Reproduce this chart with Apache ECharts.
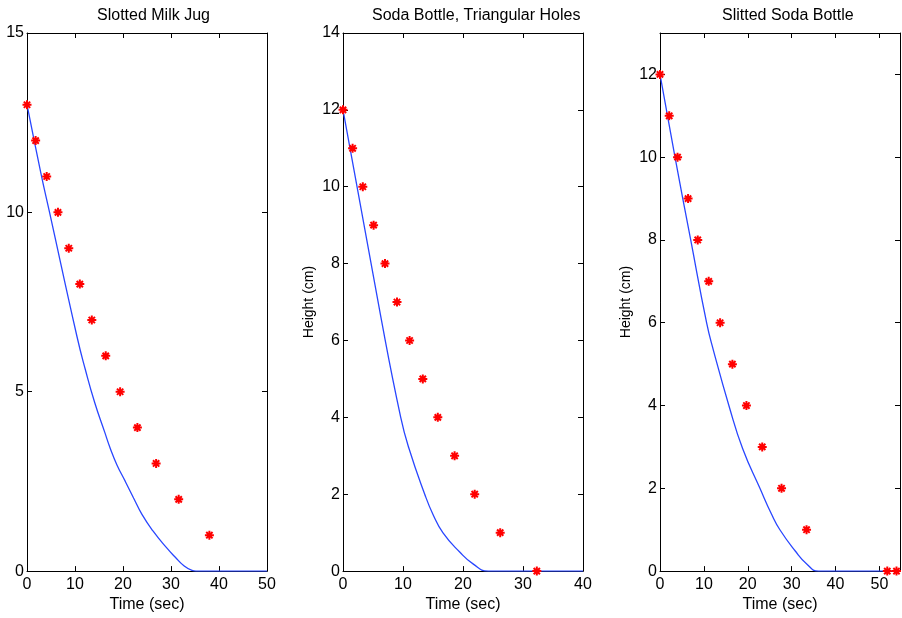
<!DOCTYPE html>
<html>
<head>
<meta charset="utf-8">
<script src="https://cdn.jsdelivr.net/npm/echarts@6/dist/echarts.min.js"></script>
<style>
html,body{margin:0;padding:0;background:#fff;}
#chart{width:902px;height:618px;}
</style>
</head>
<body>
<div id="chart"></div>
<script>
// ---- Data ----
const titles = ['Slotted Milk Jug', 'Soda Bottle, Triangular Holes', 'Slitted Soda Bottle'];

// Measured points (red asterisks)
const milkTime   = [0, 1.8, 4.1, 6.45, 8.7, 11.0, 13.5, 16.4, 19.4, 23.0, 26.9, 31.6, 38.0];
const milkHeight = [13, 12, 11, 10, 9, 8, 7, 6, 5, 4, 3, 2, 1];

const triTime   = [0, 1.6, 3.3, 5.1, 7.0, 9.0, 11.1, 13.3, 15.8, 18.6, 21.95, 26.2, 32.3];
const triHeight = [12, 11, 10, 9, 8, 7, 6, 5, 4, 3, 2, 1, 0];

const slitTime   = [0, 2.1, 4.0, 6.4, 8.6, 11.1, 13.7, 16.5, 19.7, 23.3, 27.7, 33.4, 51.8, 53.9];
const slitHeight = [12, 11, 10, 9, 8, 7, 6, 5, 4, 3, 2, 1, 0, 0];

// Model curves (blue lines)
const milkFitTime   = [0, 2.9, 4.7, 10.41, 12.15, 14.1, 16.17, 17.35, 18.74, 20.48, 22.2, 23.95, 26.24, 29.02, 30.9, 32.63, 34.37, 35.2, 50];
const milkFitHeight = [13, 11.09, 10, 6.54, 5.62, 4.7, 3.88, 3.42, 2.96, 2.5, 2.04, 1.58, 1.12, 0.66, 0.385, 0.155, 0.017, 0, 0];

const triFitTime   = [0, 6.3, 9.62, 11.0, 13.62, 15.0, 16.67, 19.45, 21.67, 24.2, 40];
const triFitHeight = [12, 6.62, 4.0, 3.19, 2.0, 1.475, 0.994, 0.497, 0.188, 0, 0];

const slitFitTime   = [0, 3.42, 7.0, 10.64, 12.16, 15.73, 18.85, 22.8, 25.46, 27.36, 30.78, 33.44, 36.1, 54.7];
const slitFitHeight = [12, 10, 8, 5.99, 5.34, 3.99, 2.956, 1.994, 1.366, 0.993, 0.492, 0.174, 0, 0];

// Axis ranges / ticks
const xMax = [50, 40, 54.7];
const xInterval = [10, 10, 10];
const yMax = [15, 14, 13];
const yInterval = [5, 2, 2];
const yNames = ['', 'Height (cm)', 'Height (cm)'];
const xName = 'Time (sec)';

// ---- Layout ----
const gridLeft = [27, 343, 660];
const gridTop = 33, gridW = 240, gridH = 544;
const titleLeft = [97, 372, 722];
const FONT = '"Liberation Sans", Arial, Helvetica, sans-serif';

function zip(a, b) { return a.map((v, i) => [v, b[i]]); }
const measured = [zip(milkTime, milkHeight), zip(triTime, triHeight), zip(slitTime, slitHeight)];
const fits = [zip(milkFitTime, milkFitHeight), zip(triFitTime, triFitHeight), zip(slitFitTime, slitFitHeight)];

const star = 'path://M5,0L5,10M0,5L10,5M1.5,1.5L8.5,8.5M1.5,8.5L8.5,1.5';

const grid = [], xAxis = [], yAxis = [], series = [], title = [];
for (let i = 0; i < 3; i++) {
  grid.push({ left: gridLeft[i], top: gridTop, width: gridW, height: gridH, containLabel: false });
  title.push({
    text: titles[i], left: titleLeft[i], top: 8, padding: 0,
    textStyle: { fontFamily: FONT, fontSize: 16, fontWeight: 'normal', color: '#000' }
  });
  const lineStyle = { color: '#000', width: 1 };
  xAxis.push({
    gridIndex: i, type: 'value', min: 0, max: xMax[i], interval: xInterval[i], position: 'bottom',
    name: xName, nameLocation: 'middle', nameGap: 21,
    nameTextStyle: { fontFamily: FONT, fontSize: 16, color: '#000' },
    axisLine: { show: true, onZero: false, lineStyle: lineStyle },
    axisTick: { show: true, inside: true, length: 5, lineStyle: lineStyle },
    axisLabel: { fontFamily: FONT, fontSize: 16, color: '#000', margin: 5, showMaxLabel: xMax[i] % xInterval[i] === 0 },
    splitLine: { show: false }
  });
  xAxis.push({
    gridIndex: i, type: 'value', min: 0, max: xMax[i], interval: xInterval[i], position: 'top',
    axisLine: { show: true, onZero: false, lineStyle: lineStyle },
    axisTick: { show: true, inside: true, length: 5, lineStyle: lineStyle },
    axisLabel: { show: false }, splitLine: { show: false }
  });
  yAxis.push({
    gridIndex: i, type: 'value', min: 0, max: yMax[i], interval: yInterval[i], position: 'left',
    name: yNames[i], nameLocation: 'middle', nameGap: 27, nameRotate: 90,
    nameTextStyle: { fontFamily: FONT, fontSize: 14, color: '#000' },
    axisLine: { show: true, onZero: false, lineStyle: lineStyle },
    axisTick: { show: true, inside: true, length: 5, lineStyle: lineStyle },
    axisLabel: { fontFamily: FONT, fontSize: 16, color: '#000', margin: 3, showMaxLabel: yMax[i] % yInterval[i] === 0 },
    splitLine: { show: false }
  });
  yAxis.push({
    gridIndex: i, type: 'value', min: 0, max: yMax[i], interval: yInterval[i], position: 'right',
    axisLine: { show: true, onZero: false, lineStyle: lineStyle },
    axisTick: { show: true, inside: true, length: 5, lineStyle: lineStyle },
    axisLabel: { show: false }, splitLine: { show: false }
  });
  series.push({
    type: 'line', xAxisIndex: 2 * i, yAxisIndex: 2 * i, data: fits[i],
    smooth: 0.5, showSymbol: false, silent: true, z: 3,
    lineStyle: { color: '#2846ff', width: 1.3 }
  });
  series.push({
    type: 'scatter', xAxisIndex: 2 * i, yAxisIndex: 2 * i, data: measured[i],
    symbol: star, symbolSize: 9, clip: false, silent: true, z: 4,
    itemStyle: { color: 'rgba(0,0,0,0)', borderColor: '#ff0000', borderWidth: 2, opacity: 1 }
  });
}

const chart = echarts.init(document.getElementById('chart'), null, { renderer: 'canvas' });
chart.setOption({
  animation: false,
  backgroundColor: '#fff',
  title: title, grid: grid, xAxis: xAxis, yAxis: yAxis, series: series
});
</script>
</body>
</html>
